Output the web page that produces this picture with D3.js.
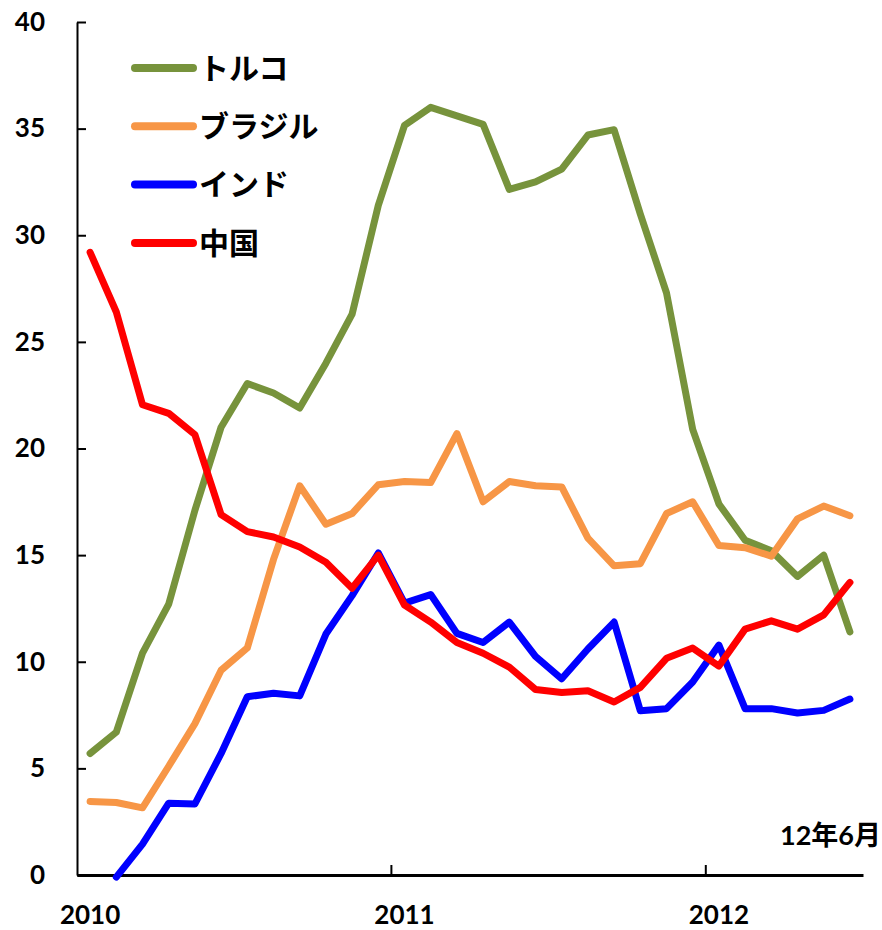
<!DOCTYPE html>
<html>
<head>
<meta charset="utf-8">
<script src="https://cdn.jsdelivr.net/npm/d3@7"></script>
<style>
  body { margin: 0; background: #fff; }
  text { font-family: Lato, "Noto Sans CJK JP", sans-serif; font-weight: bold; fill: #000; }
</style>
</head>
<body>
<div id="chart"></div>
<script>
// monthly values, Jan 2010 .. Jun 2012
const months = d3.range(30);
const yearLabels = ["2010", "2011", "2012"];
const yearStart = [0, 12, 24];
const yTicks = [0, 5, 10, 15, 20, 25, 30, 35, 40];
const seriesNames = ["トルコ", "ブラジル", "インド", "中国"];

const turkey = [5.7, 6.7, 10.4, 12.7, 17.1, 21.0, 23.05, 22.6, 21.9, 24.0, 26.3, 31.4, 35.15, 36.0, 35.6,
  35.2, 32.15, 32.5, 33.1, 34.7, 34.95, 31.0, 27.3, 20.9, 17.4, 15.7, 15.2, 14.0, 15.0, 11.4];
const brazil = [3.45, 3.4, 3.15, 5.1, 7.1, 9.6, 10.65, 14.8, 18.25, 16.45, 16.95, 18.3, 18.45, 18.4, 20.7,
  17.5, 18.45, 18.25, 18.2, 15.8, 14.5, 14.6, 16.95, 17.5, 15.45, 15.35, 14.95, 16.7, 17.3, 16.85];
const india = [null, -0.1, 1.45, 3.37, 3.33, 5.7, 8.36, 8.52, 8.4, 11.3, 13.1, 15.1, 12.75, 13.15, 11.33,
  10.9, 11.86, 10.25, 9.2, 10.6, 11.86, 7.7, 7.8, 9.05, 10.78, 7.8, 7.8, 7.6, 7.72, 8.25];
const china = [29.2, 26.4, 22.05, 21.65, 20.65, 16.9, 16.1, 15.85, 15.38, 14.67, 13.45, 15.0, 12.66, 11.86, 10.9,
  10.4, 9.75, 8.7, 8.56, 8.64, 8.11, 8.8, 10.16, 10.64, 9.8, 11.53, 11.92, 11.53, 12.2, 13.72];

const colors = ["#77933C", "#F79646", "#0000FF", "#FF0000"];
const series = [turkey, brazil, india, china];

const margin = { top: 22, right: 19, bottom: 55, left: 77 };
const width = 882 - margin.left - margin.right;
const height = 930 - margin.top - margin.bottom;

const svg = d3.select("#chart")
  .append("svg")
    .attr("width", width + margin.left + margin.right)
    .attr("height", height + margin.top + margin.bottom)
  .append("g")
    .attr("transform", `translate(${margin.left},${margin.top})`);

const x = d3.scaleBand()
  .domain(months)
  .range([0, width])
  .padding(0);

const y = d3.scaleLinear()
  .domain([0, 40])
  .range([height, 0]);

const cx = i => x(i) + x.bandwidth() / 2;

// Y axis, ticks pointing inward
const yAxis = svg.append("g")
  .call(d3.axisLeft(y).tickValues(yTicks).tickSizeInner(-9).tickSizeOuter(0).tickPadding(32));
yAxis.select(".domain").attr("stroke", "#000").attr("stroke-width", 2);
yAxis.selectAll(".tick line").attr("stroke", "#000").attr("stroke-width", 2);
yAxis.selectAll("text").style("font-size", "26px");

// X axis: labels at January of each year
const xAxis = svg.append("g")
  .attr("transform", `translate(0,${height})`)
  .call(d3.axisBottom(x).tickValues(yearStart).tickSize(0).tickPadding(31)
    .tickFormat((d, i) => yearLabels[i]));
xAxis.select(".domain").attr("stroke", "#000").attr("stroke-width", 3);
xAxis.selectAll("text").style("font-size", "26px");

// year boundary ticks, pointing up
svg.selectAll(".yeartick")
  .data(yearStart.slice(1))
  .enter()
  .append("line")
    .attr("x1", d => x(d))
    .attr("x2", d => x(d))
    .attr("y1", height)
    .attr("y2", height - 10)
    .attr("stroke", "#000")
    .attr("stroke-width", 2);

const line = d3.line()
  .defined(d => d != null)
  .x((d, i) => cx(i))
  .y(d => y(d));

svg.selectAll(".series")
  .data(series)
  .enter()
  .append("path")
    .attr("d", d => line(d))
    .attr("fill", "none")
    .attr("stroke", (d, i) => colors[i])
    .attr("stroke-width", 7)
    .attr("stroke-linejoin", "round")
    .attr("stroke-linecap", "round");

// legend
const legend = svg.selectAll(".legend")
  .data(seriesNames)
  .enter()
  .append("g")
    .attr("transform", (d, i) => `translate(58,${46 + i * 58.3})`);

legend.append("line")
  .attr("x1", 0)
  .attr("x2", 58)
  .attr("stroke", (d, i) => colors[i])
  .attr("stroke-width", 8)
  .attr("stroke-linecap", "round");

legend.append("text")
  .attr("x", 64)
  .attr("dy", "0.36em")
  .style("font-size", "30px")
  .text(d => d);

// end-month note
svg.append("text")
  .attr("x", width + 18)
  .attr("y", height - 30)
  .attr("text-anchor", "end")
  .style("font-size", "27px")
  .text("12年6月");
</script>
</body>
</html>
